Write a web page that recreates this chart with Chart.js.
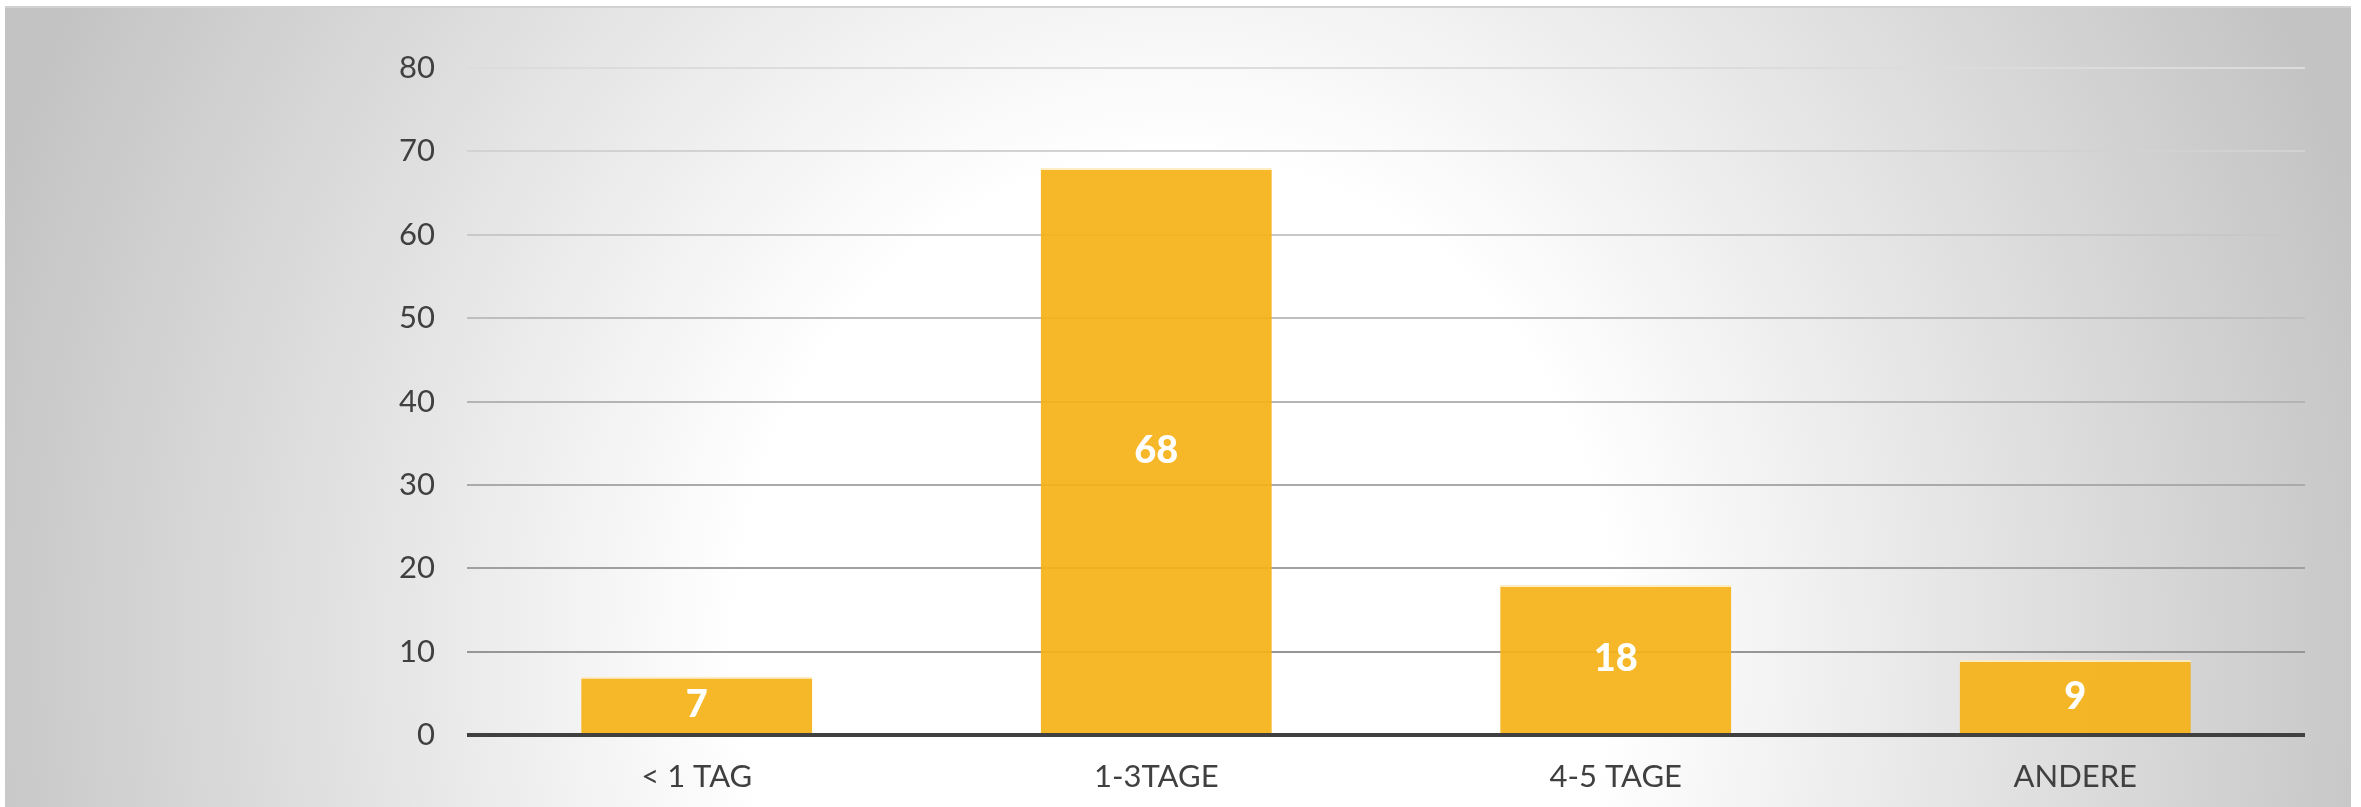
<!DOCTYPE html>
<html>
<head>
<meta charset="utf-8">
<script src="https://cdn.jsdelivr.net/npm/chart.js@4/dist/chart.umd.min.js"></script>
<style>
    html, body { margin: 0; padding: 0; width: 2361px; height: 807px; background: #fff; overflow: hidden; }
    #panel {
        position: absolute; left: 5px; top: 6px; width: 2346px; height: 801px;
        border-top: 2px solid #d2d2d2;
        box-sizing: border-box;
        background: radial-gradient(ellipse 1250px 1400px at 1170px 640px, #ffffff 0%, #ffffff 35%, #c3c3c3 100%);
    }
    #wrap { position: absolute; left: 0; top: 0; width: 2361px; height: 807px; }
</style>
</head>
<body>
<div id="panel"></div>
<div id="wrap"><canvas id="chart"></canvas></div>
<script>
// Daten aus der Grafik
const categories = ['< 1 TAG', '1-3TAGE', '4-5 TAGE', 'ANDERE'];
const values = [7, 68, 18, 9];
const yTicks = [0, 10, 20, 30, 40, 50, 60, 70, 80];

// Werte mittig in die Balken schreiben
const barLabels = {
    id: 'barLabels',
    afterDatasetsDraw(chart) {
        const ctx = chart.ctx;
        const meta = chart.getDatasetMeta(0);
        ctx.save();
        ctx.fillStyle = '#ffffff';
        ctx.font = '900 38px Lato';
        ctx.textAlign = 'center';
        ctx.textBaseline = 'middle';
        meta.data.forEach((bar, i) => {
            ctx.fillText(String(values[i]), bar.x, (bar.y + bar.base) / 2);
        });
        ctx.restore();
    }
};

const ctx = document.getElementById('chart').getContext('2d');
new Chart(ctx, {
    type: 'bar',
    data: {
        labels: categories,
        datasets: [{
            data: values,
            backgroundColor: 'rgba(245, 177, 22, 0.92)',
            borderColor: 'rgba(255, 236, 190, 0.9)',
            borderWidth: { top: 2, left: 0, right: 0, bottom: 0 },
            borderSkipped: false,
            barPercentage: 0.503,
            categoryPercentage: 1.0
        }]
    },
    options: {
        responsive: true,
        maintainAspectRatio: false,
        animation: false,
        layout: { padding: { top: 68, right: 56, bottom: 0, left: 0 } },
        plugins: {
            legend: { display: false },
            tooltip: { enabled: false }
        },
        scales: {
            x: {
                afterFit: axis => { axis.height = 72; },
                grid: { display: false, drawTicks: false },
                border: { display: false },
                ticks: {
                    color: '#404040',
                    font: { family: 'Lato', size: 31 },
                    padding: 23
                }
            },
            y: {
                min: 0,
                max: 80,
                afterFit: axis => { axis.width = 467; },
                afterBuildTicks: axis => { axis.ticks = yTicks.map(v => ({ value: v })); },
                grid: {
                    drawTicks: false,
                    color: c => {
                        if (c.tick.value === 0) return '#404040';
                        const g = Math.round(150 + (c.tick.value - 10));
                        return `rgb(${g}, ${g}, ${g})`;
                    },
                    lineWidth: c => (c.tick.value === 0 ? 4 : 2)
                },
                border: { display: false },
                ticks: {
                    color: '#404040',
                    font: { family: 'Lato', size: 31 },
                    padding: 32
                }
            }
        }
    },
    plugins: [barLabels]
});
</script>
</body>
</html>
